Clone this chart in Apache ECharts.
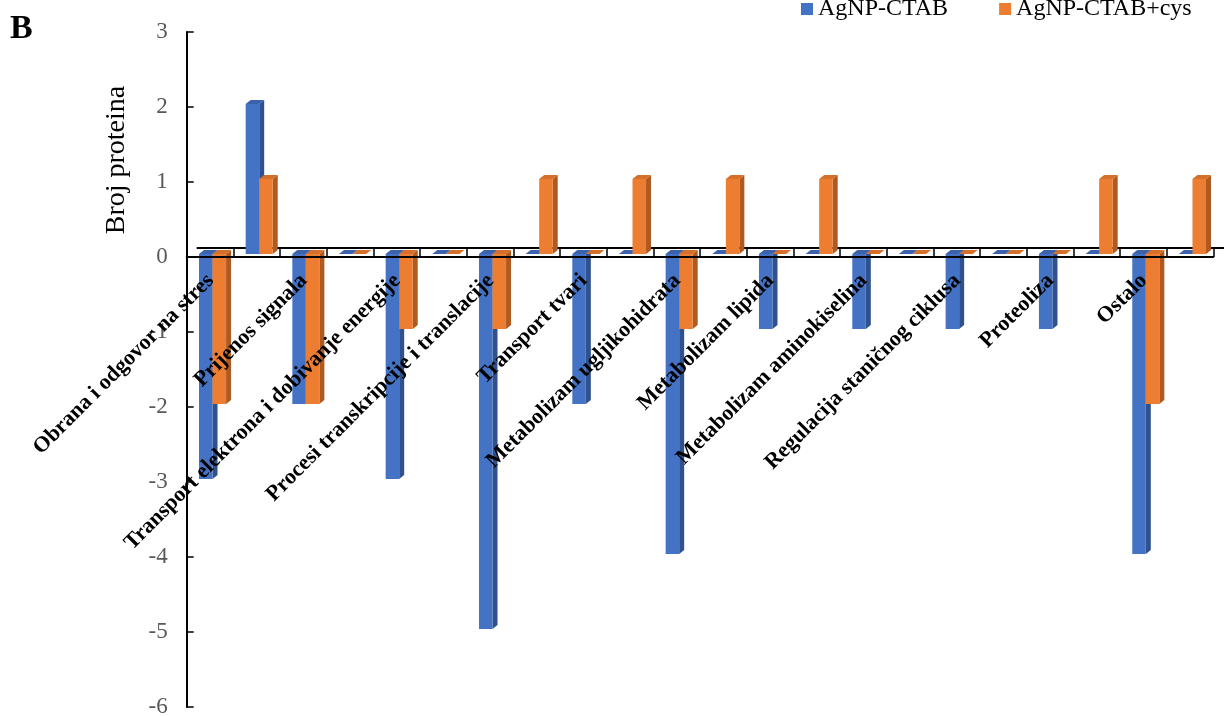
<!DOCTYPE html>
<html>
<head>
<meta charset="utf-8">
<script src="https://cdn.jsdelivr.net/npm/echarts@6/dist/echarts.min.js"></script>
<style>
html,body{margin:0;padding:0;background:#fff;}
#chart{width:1224px;height:716px;}
</style>
</head>
<body>
<div id="chart"></div>
<script>
// Category names (each category has two positions: down-regulated, up-regulated)
var categories = [
  'Obrana i odgovor na stres',
  'Prijenos signala',
  'Transport elektrona i dobivanje energije',
  'Procesi transkripcije i translacije',
  'Transport tvari',
  'Metabolizam ugljikohidrata',
  'Metabolizam lipida',
  'Metabolizam aminokiselina',
  'Regulacija staničnog ciklusa',
  'Proteoliza',
  'Ostalo'
];
var seriesNames = ['AgNP-CTAB', 'AgNP-CTAB+cys'];
// values at the 22 positions
var agnpCtab    = [-3, 2, -2, 0, -3, 0, -5, 0, -2, 0, -4, 0, -1, 0, -1, 0, -1, 0, -1, 0, -4, 0];
var agnpCtabCys = [-2, 1, -2, 0, -1, 0, -1, 1, 0, 1, -1, 1, 0, 1, 0, 0, 0, 0, 0, 1, -2, 1];
var yTicks = [-6, -5, -4, -3, -2, -1, 0, 1, 2, 3];

var axisCats = [];
categories.forEach(function (c) { axisCats.push(c); axisCats.push(''); });

var palettes = [
  {front: '#4472C4', side: '#2F528F', top: '#3A62AD'},
  {front: '#ED7D31', side: '#AE5A21', top: '#D66F29'}
];

function makeRender(si) {
  var pal = palettes[si];
  return function (params, api) {
    var i = api.value(0), v = api.value(1);
    var band = api.size([1, 0])[0];
    var w = band * 0.29;
    var dx = 5, dy = -4, sh = -3;
    var c0 = api.coord([i, 0]);
    var c1 = api.coord([i, v]);
    var x0 = c0[0] + 2.5 + (si - 1) * w;
    var yA = Math.min(c0[1], c1[1]) + sh;
    var yB = Math.max(c0[1], c1[1]) + sh;
    var x1 = x0 + w;
    var children = [];
    if (yB - yA > 0.5) {
      children.push({type: 'polygon', shape: {points: [[x1, yA], [x1 + dx, yA + dy], [x1 + dx, yB + dy], [x1, yB]]}, style: {fill: pal.side}});
      children.push({type: 'rect', shape: {x: x0, y: yA, width: w, height: yB - yA}, style: {fill: pal.front}});
    }
    children.push({type: 'polygon', shape: {points: [[x0, yA], [x1, yA], [x1 + dx, yA + dy], [x0 + dx, yA + dy]]}, style: {fill: pal.top}});
    return {type: 'group', children: children};
  };
}

function toData(arr) { return arr.map(function (v, i) { return [i, v]; }); }

var chart = echarts.init(document.getElementById('chart'));
var serif = '"Liberation Serif", "Times New Roman", serif';
var titleEls = [
  {type: 'text', left: 10, top: 12, style: {text: 'B', font: 'bold 34px ' + serif, fill: '#000'}},
  {type: 'text', x: 117, y: 160, rotation: Math.PI / 2, style: {text: 'Broj proteina', font: '28px ' + serif, fill: '#000', textAlign: 'center', textVerticalAlign: 'middle'}}
];
var option = {
  animation: false,
  grid: {left: 186.7, right: 10.7, top: 32, bottom: 9, containLabel: false, outerBoundsMode: 'none'},
  legend: {
    left: 801, top: -3, padding: 0, itemWidth: 12, itemHeight: 12, itemGap: 51,
    icon: 'rect',
    textStyle: {fontFamily: serif, fontSize: 24, color: '#000'},
    data: seriesNames
  },
  xAxis: {
    type: 'category', data: axisCats, z: 10,
    axisLine: {onZero: true, lineStyle: {color: '#000', width: 2}},
    axisTick: {show: true, inside: true, length: 8, interval: 0, lineStyle: {color: '#000', width: 1.5}},
    axisLabel: {show: false},
    splitLine: {show: false}
  },
  yAxis: {
    type: 'value', min: yTicks[0], max: yTicks[yTicks.length - 1], interval: 1,
    axisLine: {show: true, lineStyle: {color: '#000', width: 2}},
    axisTick: {show: true, inside: true, length: 7, lineStyle: {color: '#000', width: 1.5}},
    axisLabel: {margin: 19, fontFamily: serif, fontSize: 23, color: '#595959'},
    splitLine: {show: false}
  },
  graphic: titleEls,
  series: [
    {name: seriesNames[0], type: 'custom', renderItem: makeRender(0), itemStyle: {color: palettes[0].front}, encode: {x: 0, y: 1}, data: toData(agnpCtab), z: 2},
    {name: seriesNames[1], type: 'custom', renderItem: makeRender(1), itemStyle: {color: palettes[1].front}, encode: {x: 0, y: 1}, data: toData(agnpCtabCys), z: 3}
  ]
};
chart.setOption(option);
var zy = chart.convertToPixel({yAxisIndex: 0}, 0);
var labelEls = categories.map(function (name, k) {
  var px = chart.convertToPixel({xAxisIndex: 0}, 2 * k);
  return {
    type: 'text', z: 100, x: px + 0.5, y: zy + 20.5, rotation: Math.PI / 4,
    style: {text: name, font: 'bold 22px ' + serif, fill: '#000', textAlign: 'right', textVerticalAlign: 'middle'}
  };
});
chart.setOption({
  graphic: titleEls.concat([
    {type: 'line', z: 0, shape: {x1: 196.7, y1: zy - 9, x2: 1224, y2: zy - 9}, style: {stroke: '#000', lineWidth: 2}}
  ]).concat(labelEls)
});
</script>
</body>
</html>
